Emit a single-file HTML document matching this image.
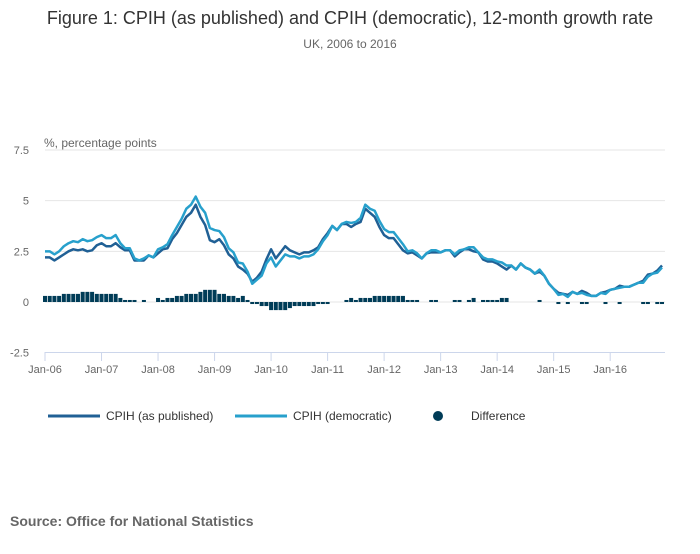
<!DOCTYPE html>
<html><head><meta charset="utf-8"><style>
body{margin:0;background:#fff;font-family:"Liberation Sans",sans-serif;}
svg text{font-family:"Liberation Sans",sans-serif;}
</style></head><body>
<svg id="chart" width="700" height="549" xmlns="http://www.w3.org/2000/svg">
<text x="350" y="24" text-anchor="middle" font-size="18" fill="#333">Figure 1: CPIH (as published) and CPIH (democratic), 12-month growth rate</text>
<text x="350" y="48" text-anchor="middle" font-size="12" fill="#666">UK, 2006 to 2016</text>
<text x="44" y="147" font-size="12" fill="#666">%, percentage points</text>
<g id="grid"></g><g id="bars"></g><g id="lines"></g><g id="xaxis"></g>
<g>
<line x1="48" y1="416" x2="100" y2="416" stroke="#206095" stroke-width="3"/>
<text x="106" y="420" font-size="12" fill="#333">CPIH (as published)</text>
<line x1="235" y1="416" x2="287" y2="416" stroke="#27a0cc" stroke-width="3"/>
<text x="293" y="420" font-size="12" fill="#333">CPIH (democratic)</text>
<circle cx="438" cy="416" r="5" fill="#003c57"/>
<text x="471" y="420" font-size="12" fill="#333">Difference</text>
</g>
<text x="10" y="526" font-size="14" font-weight="bold" fill="#666">Source: Office for National Statistics</text>
</svg>
<script>
const yTicks=[7.5,5,2.5,0,-2.5];
const yTickLabels=["7.5","5","2.5","0","-2.5"];
const xTickLabels=["Jan-06","Jan-07","Jan-08","Jan-09","Jan-10","Jan-11","Jan-12","Jan-13","Jan-14","Jan-15","Jan-16"];
const published=[2.2,2.2,2.05,2.2,2.35,2.5,2.6,2.55,2.6,2.5,2.55,2.8,
2.9,2.75,2.75,2.9,2.7,2.55,2.55,2.05,2.05,2.05,2.3,2.2,
2.4,2.6,2.65,3.1,3.4,3.8,4.2,4.4,4.8,4.2,3.8,3.05,
2.95,3.1,2.8,2.35,2.15,1.75,1.6,1.4,1.0,1.2,1.5,2.1,
2.6,2.15,2.45,2.75,2.55,2.45,2.35,2.45,2.45,2.55,2.7,3.1,
3.4,3.75,3.55,3.85,3.85,3.7,3.85,3.95,4.6,4.4,4.2,3.7,
3.3,3.15,3.15,2.85,2.55,2.4,2.45,2.3,2.15,2.4,2.45,2.45,
2.45,2.55,2.55,2.25,2.45,2.6,2.6,2.5,2.45,2.1,2.0,2.0,
1.9,1.75,1.6,1.8,1.6,1.9,1.7,1.6,1.4,1.5,1.3,0.9,
0.65,0.45,0.4,0.35,0.5,0.4,0.55,0.45,0.3,0.3,0.45,0.5,
0.6,0.65,0.8,0.75,0.75,0.85,0.95,1.05,1.35,1.4,1.55,1.8];
const democratic=[2.5,2.5,2.35,2.5,2.75,2.9,3.0,2.95,3.1,3.0,3.05,3.2,
3.3,3.15,3.15,3.3,2.9,2.65,2.65,2.15,2.05,2.15,2.3,2.2,
2.6,2.7,2.85,3.3,3.7,4.1,4.6,4.8,5.2,4.7,4.4,3.65,
3.55,3.5,3.2,2.65,2.45,1.95,1.9,1.5,0.9,1.1,1.3,1.9,
2.2,1.75,2.05,2.35,2.25,2.25,2.15,2.25,2.25,2.35,2.6,3.0,
3.3,3.75,3.55,3.85,3.95,3.9,3.95,4.15,4.8,4.6,4.5,4.0,
3.6,3.45,3.45,3.15,2.85,2.5,2.55,2.4,2.15,2.4,2.55,2.55,
2.45,2.55,2.55,2.35,2.55,2.6,2.7,2.7,2.45,2.2,2.1,2.1,
2.0,1.95,1.8,1.8,1.6,1.9,1.7,1.6,1.4,1.6,1.3,0.9,
0.65,0.35,0.4,0.25,0.5,0.4,0.45,0.35,0.3,0.3,0.45,0.4,
0.6,0.65,0.7,0.75,0.75,0.85,0.95,0.95,1.25,1.4,1.45,1.7];
const difference=[.3,.3,.3,.3,.4,.4,.4,.4,.5,.5,.5,.4,
.4,.4,.4,.4,.2,.1,.1,.1,0,.1,0,0,
.2,.1,.2,.2,.3,.3,.4,.4,.4,.5,.6,.6,
.6,.4,.4,.3,.3,.2,.3,.1,-.1,-.1,-.2,-.2,
-.4,-.4,-.4,-.4,-.3,-.2,-.2,-.2,-.2,-.2,-.1,-.1,
-.1,0,0,0,.1,.2,.1,.2,.2,.2,.3,.3,
.3,.3,.3,.3,.3,.1,.1,.1,0,0,.1,.1,
0,0,0,.1,.1,0,.1,.2,0,.1,.1,.1,
.1,.2,.2,0,0,0,0,0,0,.1,0,0,
0,-.1,0,-.1,0,0,-.1,-.1,0,0,0,-.1,
0,0,-.1,0,0,0,0,-.1,-.1,0,-.1,-.1];
const NS="http://www.w3.org/2000/svg";
const x=i=>45+i*4.71;
const y=v=>302-v*20.27;
function mk(tag,parent,attrs){const e=document.createElementNS(NS,tag);for(const k in attrs)e.setAttribute(k,attrs[k]);document.getElementById(parent).appendChild(e);return e;}
yTicks.forEach((t,i)=>{
 if(t!==-2.5){const g=mk('line','grid',{x1:45,x2:665,y1:y(t),y2:y(t),stroke:'#e6e6e6','stroke-width':1});
 
 }
 const l=mk('text','grid',{x:29,y:y(t)+4,'text-anchor':'end','font-size':11,fill:'#666'});
 
 
 l.textContent=yTickLabels[i];
});
const ax=mk('line','xaxis',{x1:45,x2:665,y1:352.5,y2:352.5,stroke:'#ccd6eb','stroke-width':1});


xTickLabels.forEach((t,i)=>{
 const xx=x(i*12);
 const tk=mk('line','xaxis',{x1:xx,x2:xx,y1:352,y2:361,stroke:'#ccd6eb','stroke-width':1});
 
 
 const l=mk('text','xaxis',{x:xx,y:373,'text-anchor':'middle','font-size':11,fill:'#666'});
 
 
 l.textContent=t;
});
difference.forEach((d,i)=>{
 if(d===0)return;
 const b=mk('rect','bars',{x:x(i)-2,width:4,y:Math.min(y(d),y(0)),height:Math.abs(y(d)-y(0)),fill:'#003c57'});
 
 
});
function line(arr,col,name){
 const p=mk('polyline','lines',{points:arr.map((v,i)=>x(i)+','+y(v)).join(' '),fill:'none',stroke:col,'stroke-width':2.5,'stroke-linejoin':'round'});
 
 
}
line(published,'#206095','published-line');
line(democratic,'#27a0cc','democratic-line');
</script>
</body></html>
